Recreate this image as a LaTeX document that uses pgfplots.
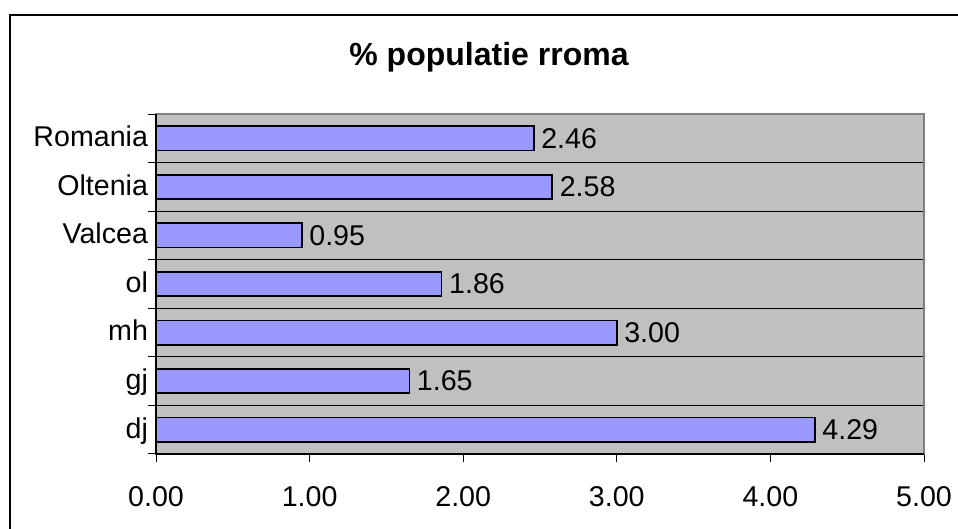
\documentclass[border=0pt]{standalone}
\usepackage{fontspec}
\setmainfont{Liberation Sans}
\usepackage{pgfplots}
\pgfplotsset{compat=1.18}
\definecolor{barblue}{HTML}{9999FF}
\definecolor{plotgray}{HTML}{C0C0C0}
\definecolor{bordergray}{HTML}{808080}

\begin{document}
\begin{tikzpicture}
\useasboundingbox (0,0) rectangle (479pt,264.5pt);
% outer chart frame (cut at right and bottom as in the original)
\draw[line width=1.2pt] (5pt,-3pt) -- (5pt,257pt) -- (485pt,257pt);
\node[font=\fontsize{16}{19}\selectfont\bfseries, anchor=base, inner sep=0pt]
  at (244.5pt,231.5pt) {\% populatie rroma};
\begin{axis}[
  at={(78pt,37.5pt)}, anchor=south west,
  width=384pt, height=170pt, scale only axis,
  xbar, bar width=0.5,
  xmin=0, xmax=5, ymin=-0.5, ymax=6.5,
  xtick={0,1,2,3,4,5},
  ytick={0,1,2,3,4,5,6},
  yticklabels={dj,gj,mh,ol,Valcea,Oltenia,Romania},
  minor ytick={-0.5,0.5,1.5,2.5,3.5,4.5,5.5,6.5},
  yminorgrids,
  minor y grid style={black, line width=0.5pt},
  tick align=outside, major tick length=4pt, minor tick length=4pt,
  xtick pos=bottom, ytick pos=left,
  major y tick style={draw=none},
  tick style={black, line width=0.5pt},
  axis background/.style={fill=plotgray},
  axis line style={bordergray, line width=1pt},
  scaled x ticks=false,
  tick label style={font=\fontsize{14.3}{17}\selectfont},
  x tick label style={yshift=-8.5pt, /pgf/number format/.cd, fixed, fixed zerofill,
                      precision=2, assume math mode=true},
  yticklabel style={anchor=base east, xshift=3.5pt, yshift=-0.42em},
  point meta=x,
  nodes near coords={\pgfmathprintnumber[fixed, fixed zerofill, precision=2,
                     assume math mode=true]{\pgfplotspointmeta}},
  nodes near coords style={font=\fontsize{14.3}{17}\selectfont, black},
  clip=false,
]
\addplot[fill=barblue, draw=black, line width=0.8pt] coordinates {
  (4.29,0) (1.65,1) (3.00,2) (1.86,3) (0.95,4) (2.58,5) (2.46,6)
};
\draw[black, line width=1pt] (axis cs:0,6.5) -- (axis cs:0,-0.5) -- (axis cs:5,-0.5);
\end{axis}
\end{tikzpicture}
\end{document}
